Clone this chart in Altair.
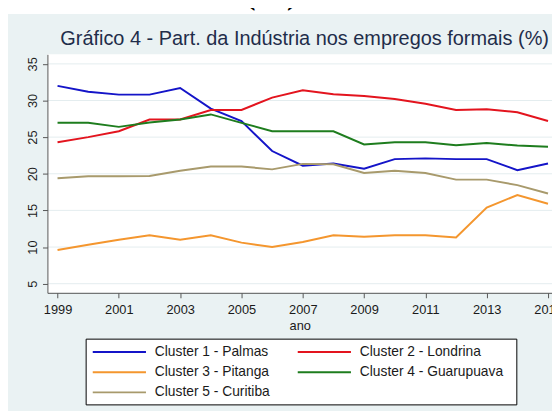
import altair as alt
import pandas as pd

years = list(range(1999, 2016))
series_names = ["Cluster 1 - Palmas", "Cluster 2 - Londrina", "Cluster 3 - Pitanga",
                "Cluster 4 - Guarupuava", "Cluster 5 - Curitiba"]
series_colors = ["#1414C8", "#E3141E", "#F4962E", "#1E7D1E", "#A89A6C"]

palmas     = [32.0, 31.2, 30.8, 30.8, 31.7, 28.9, 27.2, 23.1, 21.1, 21.4, 20.7, 22.0, 22.1, 22.0, 22.0, 20.5, 21.4]
londrina   = [24.3, 25.0, 25.8, 27.4, 27.4, 28.7, 28.7, 30.4, 31.4, 30.85, 30.6, 30.2, 29.55, 28.7, 28.8, 28.4, 27.2]
pitanga    = [9.6, 10.3, 11.0, 11.6, 11.0, 11.6, 10.6, 10.0, 10.7, 11.6, 11.4, 11.6, 11.6, 11.3, 15.4, 17.1, 15.9]
guarupuava = [26.95, 26.95, 26.4, 27.0, 27.4, 28.1, 26.95, 25.8, 25.8, 25.8, 24.0, 24.3, 24.3, 23.9, 24.2, 23.85, 23.7]
curitiba   = [19.4, 19.65, 19.65, 19.7, 20.4, 21.0, 21.0, 20.6, 21.35, 21.3, 20.1, 20.4, 20.1, 19.2, 19.2, 18.45, 17.3]

y_ticks = [5, 10, 15, 20, 25, 30, 35]
x_ticks = [1999, 2001, 2003, 2005, 2007, 2009, 2011, 2013, 2015]
title_text = "Gráfico 4 - Part. da Indústria nos empregos formais (%)"
top_text = "(%)"
x_title = "ano"

rows = []
for name, vals in zip(series_names, [palmas, londrina, pitanga, guarupuava, curitiba]):
    for yr, v in zip(years, vals):
        rows.append({"ano": yr, "valor": v, "serie": name})
df = pd.DataFrame(rows)

W, H = 512, 242
BG = "#EAF2F3"
FONT = "Liberation Sans"
TXT = "#1A1A1A"
AX = "#555555"

xscale = alt.Scale(domain=[1998.67, 2015.13], nice=False, zero=False)
yscale = alt.Scale(domain=[3.75, 36.3], nice=False, zero=False)

y_axis = alt.Axis(values=y_ticks, title=None, grid=False, tickSize=5,
                  labelAngle=270, labelAlign="center", labelBaseline="bottom",
                  labelPadding=3, labelFontSize=13, labelFont=FONT, labelOverlap=False,
                  labelColor=TXT, domainColor=AX, tickColor=AX, zindex=1)
x_axis = alt.Axis(values=x_ticks, format="d", title=x_title, grid=False,
                  tickSize=5, labelPadding=6, labelFontSize=13, labelFont=FONT,
                  labelColor=TXT, domainColor=AX, tickColor=AX,
                  titleFont=FONT, titleFontSize=13, titleFontWeight="normal",
                  titleColor=TXT, titlePadding=3, zindex=1, labelFlush=False)

one = pd.DataFrame({"k": [0]})

top_label = alt.Chart(pd.DataFrame({"t": [top_text]})).mark_text(
    font="Liberation Serif", fontSize=32, fontWeight="bold", color="#000000",
    align="center", baseline="alphabetic"
).encode(text="t:N", x=alt.value(227), y=alt.value(-51))

bg = alt.Chart(one).mark_rect(color=BG).encode(
    x=alt.value(-40), x2=alt.value(W), y=alt.value(-41), y2=alt.value(362))

plot_bg = alt.Chart(one).mark_rect(color="#FFFFFF").encode(
    x=alt.value(0), x2=alt.value(W), y=alt.value(0), y2=alt.value(H))

grid = alt.Chart(pd.DataFrame({"g": y_ticks})).mark_rule(color="#E4EDEF", strokeWidth=1).encode(
    y=alt.Y("g:Q", scale=yscale, axis=y_axis), x=alt.value(0), x2=alt.value(W))

title = alt.Chart(pd.DataFrame({"t": [title_text]})).mark_text(
    font=FONT, fontSize=20.2, color="#1F2D4A", align="center", baseline="alphabetic"
).encode(text="t:N", x=alt.value(261), y=alt.value(-9))

legend_box = alt.Chart(one).mark_rect(fill="#FFFFFF", stroke="#000000", strokeWidth=1).encode(
    x=alt.value(39.3), x2=alt.value(476.3), y=alt.value(289), y2=alt.value(355.7))

# legend entries (row-major, two columns), positions derived from entry index
legend_layers = []
for i, (name, col) in enumerate(zip(series_names, series_colors)):
    r, c = divmod(i, 2)
    lx = 46 + c * 208
    ly = 302 + r * 20.5
    legend_layers.append(
        alt.Chart(one).mark_rule(strokeWidth=2, color=col).encode(
            x=alt.value(lx), x2=alt.value(lx + 54), y=alt.value(ly)))
    legend_layers.append(
        alt.Chart(pd.DataFrame({"t": [name]})).mark_text(
            font=FONT, fontSize=14, color=TXT, align="left", baseline="middle"
        ).encode(text="t:N", x=alt.value(lx + 63), y=alt.value(ly)))

lines = alt.Chart(df).mark_line(strokeWidth=2).encode(
    x=alt.X("ano:Q", scale=xscale, axis=x_axis),
    y=alt.Y("valor:Q", scale=yscale, axis=y_axis),
    color=alt.Color("serie:N", scale=alt.Scale(domain=series_names, range=series_colors),
                    legend=None),
    order="ano:Q",
)

chart = alt.layer(top_label, bg, plot_bg, grid, title, lines, legend_box, *legend_layers).properties(
    width=W, height=H,
    autosize=alt.AutoSizeParams(type="none"),
    padding={"left": 40, "top": 44, "right": 0, "bottom": 125},
    background="#FFFFFF",
).configure_view(stroke=None)

chart.save("out.html", embed_options={"renderer": "svg", "actions": False})
